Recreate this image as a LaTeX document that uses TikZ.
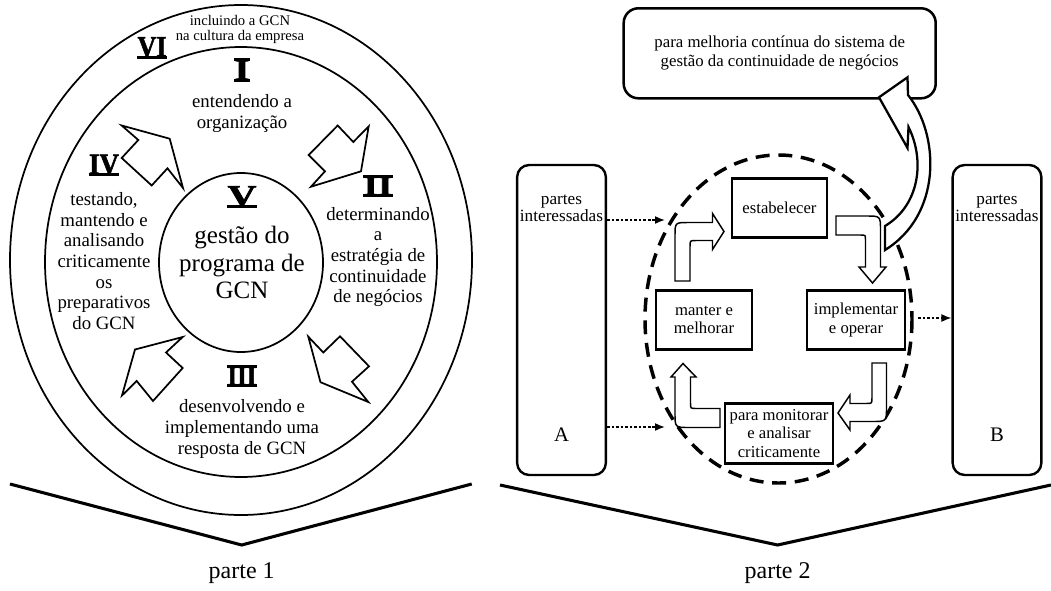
\documentclass[tikz,border=0pt]{standalone}
\usepackage{graphicx}
\usepackage{fontspec}
\setmainfont{Liberation Serif}
\newfontfamily\numfont{Liberation Serif Bold}[FakeBold=2]
\usetikzlibrary{arrows.meta,positioning}

\tikzset{
  ring/.style={line width=1.3pt},
  numeral/.style={inner sep=0pt, font=\numfont},
  bar/.style={line width=2.4pt},
  phase/.style={align=center, inner sep=0pt, font=\fontsize{14.1}{15.5}\selectfont},
  hollow/.style={draw, fill=white, line width=1.1pt, line join=miter},
  stagebox/.style={draw, line width=2.1pt, align=center, inner sep=0pt,
    minimum height=44.5pt, font=\fontsize{12.5}{14}\selectfont},
  party/.style={draw, line width=1.8pt, rounded corners=9pt,
    minimum width=66.5pt, minimum height=232.5pt},
  feed/.style={line width=1.2pt, dash pattern=on 2pt off 1.4pt,
    -{Latex[length=7.5pt,width=6pt]}},
  chevron/.style={line width=2.3pt, line join=miter},
  partlabel/.style={font=\fontsize{18}{18}\selectfont},
}

\begin{document}
\begin{tikzpicture}[x=0.75pt, y=-0.75pt]
\useasboundingbox (0,0) rectangle (1051,590);

% Part 1
\begin{scope}
  \draw[ring] (241,260) ellipse [x radius=231, y radius=255];
  \draw[ring] (241,262) ellipse [x radius=196, y radius=215];
  \draw[ring] (241,262.5) ellipse [x radius=82, y radius=89.5];

  \node[phase, font=\fontsize{11}{11.3}\selectfont] (culture) at (240,29.5)
    {incluindo a GCN\\na cultura da empresa};
  \node[numeral] (n6) at (152,47) {\resizebox{21.75pt}{14.5pt}{VI}};
  \node[numeral] (n1) at (242,70) {\resizebox{11.25pt}{15pt}{I}};
  \node[numeral] (n4) at (104,164.5) {\resizebox{22.5pt}{14.5pt}{IV}};
  \node[numeral] (n2) at (378,186) {\resizebox{21.75pt}{14pt}{II}};
  \node[numeral] (n5) at (242,196) {\resizebox{21.75pt}{14.5pt}{V}};
  \node[numeral] (n3) at (242,376) {\resizebox{21.75pt}{14pt}{III}};
  \foreach \n in {n1,n2,n3,n4,n5,n6}
    \draw[bar] (\n.south west) -- (\n.south east);
  \foreach \n in {n1,n2,n3}
    \draw[bar] (\n.north west) -- (\n.north east);

  \node[phase] (t1) at (242,113.5) {entendendo a\\organização};
  \node[phase] (t4) at (104,261) {testando,\\mantendo e\\analisando\\criticamente\\os\\preparativos\\do GCN};
  \node[phase] (t2) at (378,257) {determinando\\a\\estratégia de\\continuidade\\de negócios};
  \node[phase, font=\fontsize{18.75}{20.6}\selectfont] (t5) at (242,262.5)
    {gestão do\\programa de\\GCN};
  \node[phase] (t3) at (242,429) {desenvolvendo e\\implementando uma\\resposta de GCN};

  % hollow arrows round the core
  \draw[hollow, line width=1.3pt] (121.7,125.5) -- (169.7,138.7) -- (183,188) -- (167.5,168.3)
    -- (151.7,185.5) -- (121.7,158) -- (138.3,140) -- cycle;
  \draw[hollow, line width=1.3pt] (368.7,126.3) -- (353.3,142) -- (337.7,125.5) -- (308.7,155)
    -- (325,171.3) -- (311,186.7) -- (361,171.3) -- cycle;
  \draw[hollow, line width=1.3pt] (182.7,337) -- (166,352.5) -- (182.7,368) -- (153,401)
    -- (136.7,381) -- (122,395.5) -- (135,349.5) -- cycle;
  \draw[hollow, line width=1.3pt] (308.3,336.7) -- (323.3,352.5) -- (340,336.3) -- (369,366.3)
    -- (352,381.7) -- (368.3,402) -- (320.5,382.2) -- cycle;

  \draw[chevron] (10,484) -- (241.7,545) -- (471.7,484);
  \node[partlabel] (p1) at (241.7,573) {parte 1};
\end{scope}

% Part 2
\begin{scope}
  \node[party] (pa) at (561.5,320) {};
  \node[party] (pb) at (997,320) {};
  \node[phase, font=\fontsize{12.9}{13}\selectfont] (pat) at (561.5,208.5) {partes\\interessadas};
  \node[phase, font=\fontsize{12.9}{13}\selectfont] (pbt) at (997,208.5) {partes\\interessadas};
  \node[font=\fontsize{15.5}{15.5}\selectfont] (la) at (561.5,435) {A};
  \node[font=\fontsize{15.5}{15.5}\selectfont] (lb) at (997,435) {B};

  \draw[line width=2.6pt, dash pattern=on 10.5pt off 6.5pt] (778.5,319) ellipse [x radius=133.5, y radius=164];

  \node[draw, line width=1.9pt, rounded corners=11pt, minimum width=234pt, minimum height=67.5pt,
    align=center, font=\fontsize{12.6}{14.5}\selectfont] (goal) at (779.7,53.3)
    {para melhoria contínua do sistema de\\gestão da continuidade de negócios};
  \draw[hollow, line width=1.7pt] (879,97.3) -- (907.5,77.3) -- (908,95)
    .. controls (940,135) and (942,215) .. (885,250) -- (885,226)
    .. controls (920,205) and (925,160) .. (908.5,127) -- (907.5,148) -- cycle;

  \node[stagebox, minimum width=71.25pt] (est) at (779.5,208) {estabelecer};
  \node[stagebox, minimum width=72pt] (keep) at (704,320) {manter e\\melhorar};
  \node[stagebox, minimum width=73.5pt] (run) at (856,320) {implementar\\e operar};
  \node[stagebox, minimum width=81pt] (check) at (779,433.5) {para monitorar\\e analisar\\criticamente};

  % cycle arrows
  \draw[hollow] (675,281) -- (675,236) .. controls (675,222.5) .. (688.5,222.5) -- (712.5,222.5)
    -- (712.5,213.5) -- (724,231.5) -- (712.5,249.5) -- (712.5,240.5) -- (696,240.5)
    .. controls (690,240.5) .. (690,246.5) -- (690,281) -- cycle;
  \draw[hollow] (836,216) -- (866,216) .. controls (880.5,216) .. (880.5,230.5) -- (880.5,267)
    -- (886,267) -- (872.5,283) -- (859,267) -- (865.5,267) -- (865.5,240)
    .. controls (865.5,235) .. (860.5,235) -- (836,235) -- cycle;
  \draw[hollow] (872,363) -- (886.5,363) -- (886.5,407) .. controls (886.5,421.5) .. (872,421.5)
    -- (850,421.5) -- (850,430) -- (838,413) -- (850,395) -- (850,403.5) -- (866,403.5)
    .. controls (872,403.5) .. (872,397.5) -- cycle;
  \draw[hollow] (720,408.5) -- (696,408.5) .. controls (690.5,408.5) .. (690.5,403) -- (690.5,377)
    -- (696,377) -- (683,363.5) -- (671,377) -- (675,377) -- (675,413)
    .. controls (675,427.5) .. (689.5,427.5) -- (720,427.5) -- cycle;

  \coordinate (inA) at (665,220);
  \coordinate (inB) at (665,427);
  \coordinate (outB) at (918,318);
  \draw[feed] (pa.east |- inA) -- (inA);
  \draw[feed] (pa.east |- inB) -- (inB);
  \draw[feed] (outB) -- (pb.west |- outB);

  \draw[chevron] (500,485) -- (777.6,545) -- (1051,485);
  \node[partlabel] (p2) at (777.6,573) {parte 2};
\end{scope}
\end{tikzpicture}
\end{document}
